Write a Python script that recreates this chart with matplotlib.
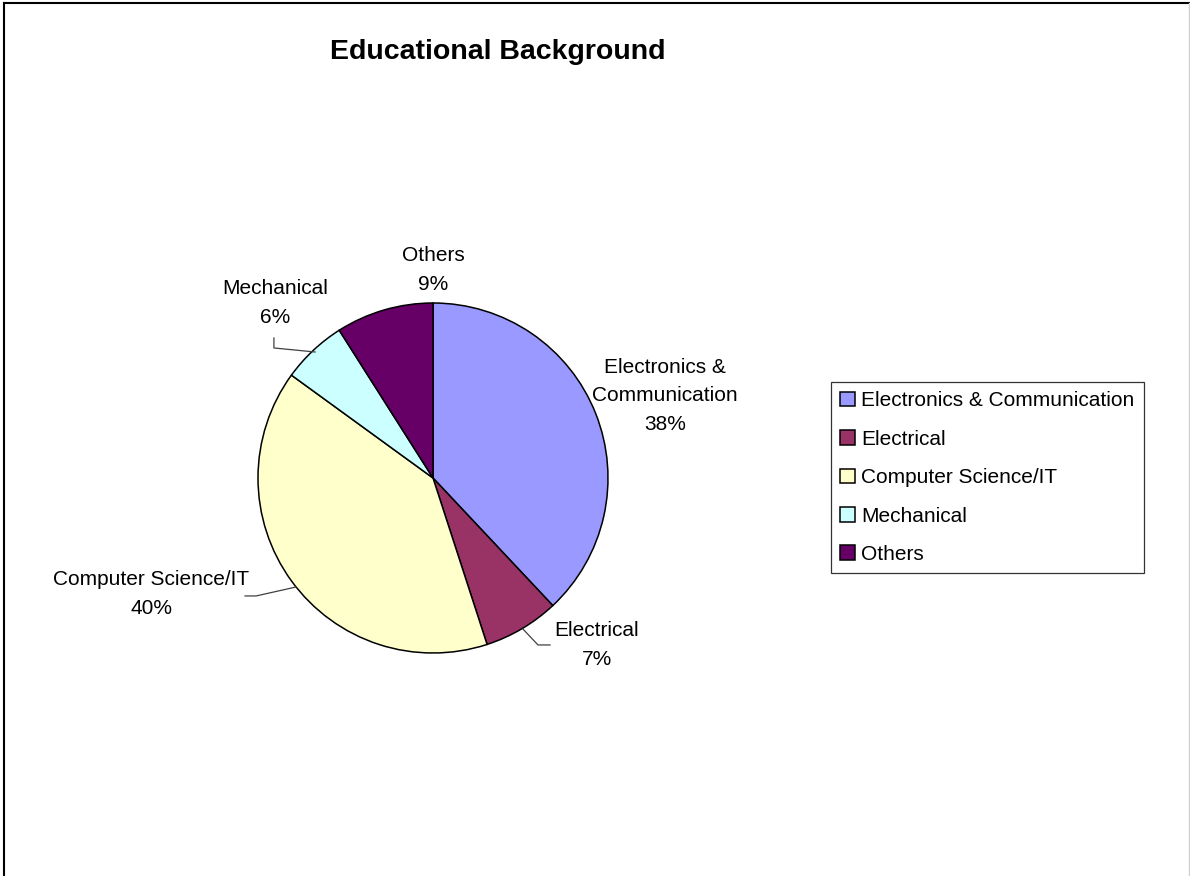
import matplotlib.pyplot as plt
from matplotlib.lines import Line2D
from matplotlib.patches import Patch

plt.rcParams['font.family'] = ['Liberation Sans', 'DejaVu Sans']

categories = ['Electronics & Communication', 'Electrical', 'Computer Science/IT',
              'Mechanical', 'Others']
shares = [38, 7, 40, 6, 9]
colors = ['#9999FF', '#993366', '#FFFFCC', '#CCFFFF', '#660066']
label_text = ['Electronics &\nCommunication', 'Electrical', 'Computer Science/IT',
              'Mechanical', 'Others']

fig = plt.figure(figsize=(11.9, 8.76), dpi=100)

# pie axes: centre (433, 478) px, radius 175 px
ax = fig.add_axes([258 / 1190, (876 - 478 - 175) / 876, 350 / 1190, 350 / 876])
wedges, _ = ax.pie(shares, colors=colors, startangle=90, counterclock=False,
                   wedgeprops=dict(edgecolor='black', linewidth=1.1))
ax.set_xlim(-1, 1)
ax.set_ylim(-1, 1)
ax.set_aspect('equal')
ax.axis('off')

# label positions (in pie radius units)
label_pos = [(1.326, 0.469), (0.937, -0.954), (-1.611, -0.663),
             (-0.903, 1.0), (0.0, 1.189)]
for txt, v, (x, y) in zip(label_text, shares, label_pos):
    ax.text(x, y, f'{txt}\n{v}%', ha='center', va='center', fontsize=15,
            linespacing=1.63, clip_on=False)

# leader lines
leaders = [
    [(-0.909, 0.80), (-0.909, 0.743), (-0.674, 0.72)],
    [(0.514, -0.863), (0.60, -0.954), (0.669, -0.954)],
    [(-1.074, -0.674), (-1.011, -0.674), (-0.783, -0.623)],
]
for pts in leaders:
    xs, ys = zip(*pts)
    ax.plot(xs, ys, color='#404040', lw=0.9, clip_on=False)

fig.text(498 / 1190, 1 - 52 / 876, 'Educational Background', ha='center',
         va='center', fontsize=20.5, fontweight='bold')

handles = [Patch(facecolor=c, edgecolor='black', linewidth=1.1) for c in colors]
leg = fig.legend(handles, categories, loc='upper left',
                 bbox_to_anchor=(831 / 1190, 1 - 382 / 876), borderaxespad=0,
                 fontsize=15, frameon=True, fancybox=False, shadow=False,
                 handlelength=0.7, handleheight=0.7, handletextpad=0.3,
                 labelspacing=0.93, borderpad=0.45)
leg.get_frame().set_edgecolor('black')
leg.get_frame().set_linewidth(0.9)

# chart area border
fig.add_artist(Line2D([4 / 1190, 1], [1 - 3 / 876, 1 - 3 / 876], color='black', lw=1.5))
fig.add_artist(Line2D([4 / 1190, 4 / 1190], [0, 1 - 3 / 876], color='black', lw=1.5))
fig.add_artist(Line2D([1188.5 / 1190, 1188.5 / 1190], [0, 1 - 3 / 876], color='#d0d0d0', lw=1))

fig.savefig('out.png', dpi=100, facecolor='white')
